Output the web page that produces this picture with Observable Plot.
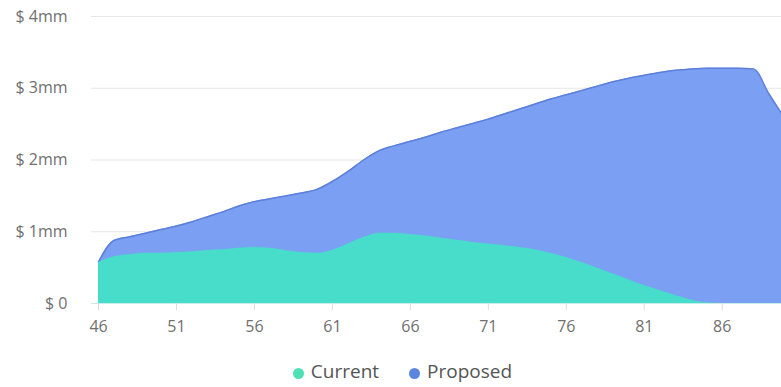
<!DOCTYPE html>
<html>
<head>
<meta charset="utf-8">
<script src="https://cdn.jsdelivr.net/npm/d3@7"></script>
<script src="https://cdn.jsdelivr.net/npm/@observablehq/plot@0.6"></script>
<style>
  html, body { margin: 0; padding: 0; background: #fff; }
  body { width: 781px; height: 387px; overflow: hidden; font-family: "Open Sans", Lato, sans-serif; position: relative; }
  #legend { position: absolute; left: 0; right: 0; top: 359px; display: flex; justify-content: center; gap: 30px; font-size: 19px; line-height: 25px; color: #555; padding-left: 24px; font-weight: 400; }
  #legend span.item { display: flex; align-items: center; }
  #legend span.dot { width: 11px; height: 11px; border-radius: 50%; display: inline-block; margin-right: 7px; margin-top: 4px; }
</style>
</head>
<body>
<div id="chart"></div>
<div id="legend"></div>
<script>
const ages = [46,47,48,49,50,51,52,53,54,55,56,57,58,59,60,61,62,63,64,65,66,67,68,69,70,71,72,73,74,75,76,77,78,79,80,81,82,83,84,85,86,87,88,89,90];
const current = [0.57,0.65,0.68,0.70,0.70,0.71,0.72,0.74,0.75,0.77,0.78,0.77,0.74,0.71,0.70,0.74,0.83,0.92,0.98,0.98,0.96,0.94,0.91,0.88,0.85,0.83,0.81,0.78,0.75,0.70,0.64,0.57,0.49,0.41,0.33,0.25,0.18,0.11,0.05,0.01,0,0,0,0,0];
const proposed = [0.58,0.88,0.93,0.98,1.03,1.08,1.14,1.21,1.28,1.36,1.42,1.46,1.50,1.54,1.59,1.70,1.84,2.00,2.13,2.20,2.26,2.32,2.39,2.45,2.51,2.57,2.64,2.71,2.78,2.85,2.91,2.97,3.03,3.09,3.14,3.18,3.22,3.25,3.27,3.28,3.28,3.28,3.27,2.92,2.58];
const seriesNames = ["Current", "Proposed"];
const seriesColors = ["#48dccb", "#7b9ff2"];
const legendColors = ["#4fe0b5", "#5b86e0"];
const xTicks = [46,51,56,61,66,71,76,81,86];
const yTicks = [0,1,2,3,4];
const yTickLabels = ["$ 0","$ 1mm","$ 2mm","$ 3mm","$ 4mm"];

const cur = ages.map((a, i) => ({age: a, value: current[i]}));
const pro = ages.map((a, i) => ({age: a, value: proposed[i]}));

const chart = Plot.plot({
  width: 781,
  height: 340,
  marginTop: 16,
  marginBottom: 37,
  marginLeft: 91,
  marginRight: 0,
  style: {fontFamily: "'Open Sans', Lato, sans-serif", fontSize: "16px", color: "#666", background: "#fff"},
  x: {domain: [45.55, 89.8], label: null},
  y: {domain: [0, 4], label: null},
  marks: [
    Plot.ruleY(yTicks, {stroke: "#e6e6e6", strokeWidth: 1}),
    Plot.areaY(pro, {x: "age", y: "value", fill: seriesColors[1], curve: "monotone-x", clip: true}),
    Plot.lineY(pro, {x: "age", y: "value", stroke: "#5c7fd9", strokeWidth: 1.5, curve: "monotone-x", clip: true}),
    Plot.areaY(cur, {x: "age", y: "value", fill: seriesColors[0], curve: "monotone-x", clip: true}),
    Plot.ruleY([0], {stroke: "#c8ece8", strokeWidth: 1}),
    Plot.axisX({ticks: xTicks, tickSize: 7, tickPadding: 10, stroke: "#ddd", fill: "#707070", fontSize: 16, tickFormat: d => String(d)}),
    Plot.axisY({ticks: yTicks, tickSize: 0, tickPadding: 24, fill: "#707070", fontSize: 16, tickFormat: d => yTickLabels[yTicks.indexOf(d)]})
  ]
});
document.getElementById("chart").appendChild(chart);

const legend = document.getElementById("legend");
seriesNames.forEach((name, i) => {
  const item = document.createElement("span");
  item.className = "item";
  const dot = document.createElement("span");
  dot.className = "dot";
  dot.style.background = legendColors[i];
  item.appendChild(dot);
  item.appendChild(document.createTextNode(name));
  legend.appendChild(item);
});
</script>
</body>
</html>
